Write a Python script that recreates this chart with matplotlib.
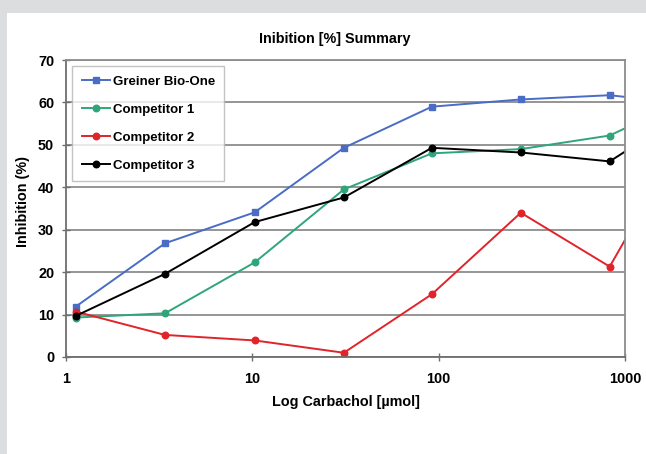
import matplotlib
matplotlib.use("Agg")
import matplotlib.pyplot as plt
from matplotlib.patches import Rectangle

plt.rcParams['font.family'] = ['Liberation Sans', 'DejaVu Sans']

# Carbachol concentrations (µmol) and inhibition (%)
concentration = [1.13, 3.4, 10.3, 31, 92, 276, 828, 2480]
greiner = [11.9, 26.8, 34.1, 49.3, 59.0, 60.7, 61.7, 59.4]
competitor1 = [9.3, 10.3, 22.3, 39.5, 48.0, 49.0, 52.2, 62.1]
competitor2 = [10.7, 5.2, 3.9, 1.0, 14.8, 34.0, 21.3, 57.9]
competitor3 = [9.7, 19.6, 31.8, 37.6, 49.3, 48.2, 46.1, 59.5]

series_names = ["Greiner Bio-One", "Competitor 1", "Competitor 2", "Competitor 3"]
series_values = [greiner, competitor1, competitor2, competitor3]
series_colors = ["#4a6cc4", "#2fa67a", "#e0242a", "#000000"]
series_markers = ["s", "o", "o", "o"]

x_ticks = [1, 10, 100, 1000]
x_ticklabels = ["1", "10", "100", "1000"]
y_ticks = [0, 10, 20, 30, 40, 50, 60, 70]

fig = plt.figure(figsize=(6.46, 4.54), dpi=100)
fig.patch.set_facecolor("#dcdddf")
# white panel behind the chart
fig.patches.append(Rectangle((7 / 646, 0), 1, 1 - 13 / 454, transform=fig.transFigure,
                             facecolor="white", edgecolor="none", zorder=-10))

ax = fig.add_axes([66 / 646, 1 - 357 / 454, (625 - 66) / 646, (357 - 60) / 454])
ax.set_facecolor("white")

for name, vals, col, mk in zip(series_names, series_values, series_colors, series_markers):
    ax.plot(concentration, vals, color=col, marker=mk, markersize=4.3 if mk == "s" else 4.7,
            linewidth=1.4, label=name, clip_on=True)

ax.set_xscale("log")
ax.set_xlim(1, 1000)
ax.set_ylim(0, 70)
ax.set_xticks(x_ticks)
ax.set_xticklabels(x_ticklabels)
ax.minorticks_off()
ax.set_yticks(y_ticks)

ax.yaxis.grid(True, color="#8c8c8c", linewidth=1.3)
ax.set_axisbelow(True)

for side in ["top", "right"]:
    ax.spines[side].set_color("#8c8c8c")
    ax.spines[side].set_linewidth(1.3)
for side in ["left", "bottom"]:
    ax.spines[side].set_color("#6e6e6e")
    ax.spines[side].set_linewidth(1.3)

ax.tick_params(axis="both", direction="inout", length=6, width=1.0, color="#6e6e6e",
               labelsize=10.4)
for lbl in ax.get_xticklabels() + ax.get_yticklabels():
    lbl.set_fontweight("bold")
ax.tick_params(axis="x", pad=7.5)
ax.tick_params(axis="y", pad=5.5)

ax.set_title("Inibition [%] Summary", fontsize=10.4, fontweight="bold", pad=12, x=0.48)
ax.set_xlabel("Log Carbachol [µmol]", fontsize=10.4, fontweight="bold", labelpad=7)
ax.set_ylabel("Inhibition (%)", fontsize=10.4, fontweight="bold")
ax.yaxis.set_label_coords(-0.065, 0.525)

leg = ax.legend(loc="upper left", bbox_to_anchor=(0.011, 0.98), borderaxespad=0,
                prop={"weight": "bold", "size": 9.5}, frameon=True, fancybox=False,
                handlelength=2.15, handletextpad=0.2, labelspacing=1.2,
                borderpad=0.72, edgecolor="#b5b5b5")
leg.get_frame().set_linewidth(1.0)

fig.savefig("out.png", dpi=100, facecolor=fig.get_facecolor())
